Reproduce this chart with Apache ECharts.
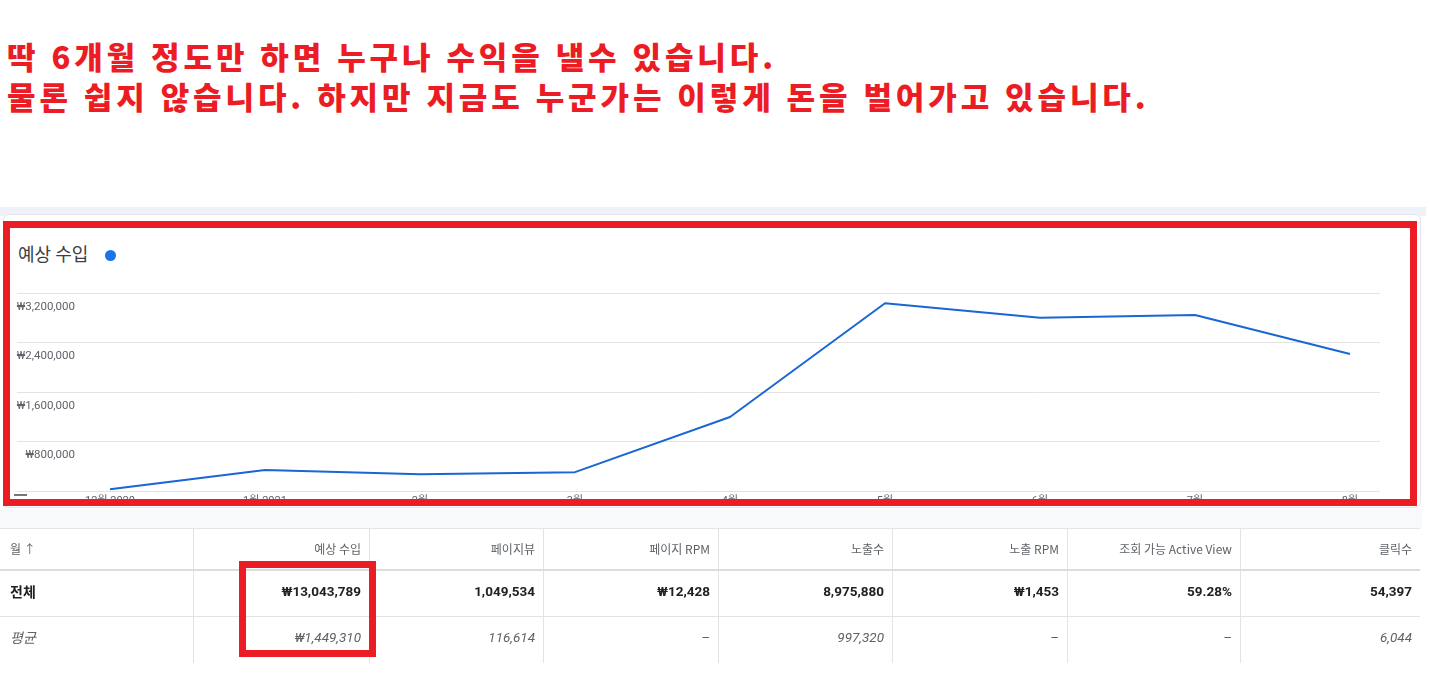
<!DOCTYPE html>
<html><head><meta charset="utf-8">
<script src="https://cdn.jsdelivr.net/npm/echarts@6/dist/echarts.min.js"></script>
<style>
html,body{margin:0;padding:0;background:#fff;width:1430px;height:676px;overflow:hidden;font-family:Roboto,"Noto Sans CJK KR",sans-serif;}
#title{position:absolute;left:7px;top:36px;color:#ec1c24;font-family:"Noto Sans CJK KR";font-weight:900;font-size:31px;line-height:40px;letter-spacing:3.9px;word-spacing:1px;white-space:nowrap;}
#strip{position:absolute;left:0;top:207px;width:1426px;height:9px;background:#eef1f8;}
#card{position:absolute;left:3px;top:214px;width:1418px;height:294px;border:1px solid #e3e5ea;border-radius:6px;background:#fff;box-sizing:border-box;}
#below{position:absolute;left:0;top:509px;width:1422px;height:19px;background:#f8f9fb;}
#chart{position:absolute;left:0;top:0;width:1430px;height:676px;}
#legend{position:absolute;left:18px;top:240px;font-family:"Noto Sans CJK KR";font-size:18px;color:#3c4043;font-weight:400;}
#dot{position:absolute;left:105px;top:250px;width:11px;height:11px;border-radius:50%;background:#1a73e8;}
#table{position:absolute;left:0;top:528px;width:1420px;}
.row{position:absolute;left:0;width:1420px;}
.cell{position:absolute;top:0;height:100%;box-sizing:border-box;border-left:1px solid #e3e3e3;text-align:right;padding-right:8px;white-space:nowrap;}
.cell.first{border-left:none;text-align:left;padding-left:10px;}
.hdr .cell{font-family:"Noto Sans CJK KR";font-size:12px;color:#5f6368;line-height:40px;}
.tot .cell{font-size:13.5px;font-weight:700;color:#202124;line-height:40px;}
.tot .cell.first{font-family:"Noto Sans CJK KR";font-size:14px;}
.avg .cell{font-size:13.5px;font-style:italic;color:#5f6368;line-height:40px;}
.avg .cell.first{font-family:"Noto Sans CJK KR";font-size:14px;}
.redbox{position:absolute;border:7px solid #ec1c24;box-sizing:border-box;}
#menu{position:absolute;left:14px;top:494px;width:13px;height:14px;}
#menu div{height:2px;background:#777;margin-bottom:3px;}
</style></head>
<body>
<div id="title">딱 6개월 정도만 하면 누구나 수익을 낼수 있습니다.<br>물론 쉽지 않습니다. 하지만 지금도 누군가는 이렇게 돈을 벌어가고 있습니다.</div>
<div id="strip"></div>
<div id="card"></div>
<div id="below"></div>
<div id="legend">예상 수입</div>
<div id="dot"></div>
<div id="chart"></div>
<div id="menu"><div></div><div></div><div></div></div>
<div id="table"></div>
<div class="redbox" style="left:3px;top:221px;width:1414px;height:285px;"></div>
<div class="redbox" style="left:239px;top:561px;width:137px;height:96px;"></div>
<script>
// ---- data ----
var months = ['12월 2020', '1월 2021', '2월', '3월', '4월', '5월', '6월', '7월', '8월'];
var revenue = [28000, 340000, 272000, 305000, 1195000, 3035000, 2800000, 2845000, 2215000];
var yTicks = [0, 800000, 1600000, 2400000, 3200000];
var tableHeaders = ['월 ↑', '예상 수입', '페이지뷰', '페이지 RPM', '노출수', '노출 RPM', '조회 가능 Active View', '클릭수'];
var totalRow = ['전체', '₩13,043,789', '1,049,534', '₩12,428', '8,975,880', '₩1,453', '59.28%', '54,397'];
var averageRow = ['평균', '₩1,449,310', '116,614', '–', '997,320', '–', '–', '6,044'];

// ---- table ----
var colEdges = [0, 193, 369, 543, 718, 892, 1067, 1240, 1420];
function buildRow(cls, vals, top, h, borderBottom) {
  var r = document.createElement('div');
  r.className = 'row ' + cls;
  r.style.top = top + 'px';
  r.style.height = h + 'px';
  r.style.borderBottom = borderBottom;
  vals.forEach(function (v, i) {
    var c = document.createElement('div');
    c.className = 'cell' + (i === 0 ? ' first' : '');
    c.style.left = colEdges[i] + 'px';
    c.style.width = (colEdges[i + 1] - colEdges[i]) + 'px';
    c.textContent = v;
    r.appendChild(c);
  });
  document.getElementById('table').appendChild(r);
}
document.getElementById('table').style.borderTop = '1px solid #e6e6e6';
buildRow('hdr', tableHeaders, 0, 40, '2px solid #dcdcdc');
buildRow('tot', totalRow, 42, 45, '1px solid #e3e3e3');
buildRow('avg', averageRow, 88, 46, 'none');

// ---- chart ----
var chart = echarts.init(document.getElementById('chart'), null, {renderer: 'canvas'});
function won(v) { return '₩' + v.toString().replace(/\B(?=(\d{3})+(?!\d))/g, ','); }
chart.setOption({
  animation: false,
  grid: [
    {left: 17, right: 50, top: 293, bottom: 185},
    {left: 110, right: 80, top: 293, bottom: 185}
  ],
  xAxis: [
    {gridIndex: 0, type: 'category', data: months, show: false},
    {gridIndex: 1, type: 'category', data: months, boundaryGap: false,
     axisLine: {show: false}, axisTick: {show: false},
     axisLabel: {color: '#5f6368', fontSize: 11, margin: 5, interval: 0, fontFamily: 'Roboto, "Noto Sans CJK KR"'}}
  ],
  yAxis: [
    {gridIndex: 0, type: 'value', min: yTicks[0], max: yTicks[yTicks.length - 1], interval: 800000,
     axisLine: {show: false}, axisTick: {show: false},
     splitLine: {lineStyle: {color: '#e3e3e3', width: 1}},
     axisLabel: {inside: true, margin: 58, align: 'right', verticalAlign: 'top', padding: [8, 0, 0, 0],
       color: '#5f6368', fontSize: 11.5, fontFamily: 'Roboto',
       formatter: function (v) { return v === 0 ? '' : won(v); }}},
    {gridIndex: 1, type: 'value', min: yTicks[0], max: yTicks[yTicks.length - 1], show: false}
  ],
  series: [{
    type: 'line', xAxisIndex: 1, yAxisIndex: 1, data: revenue,
    showSymbol: false, symbol: 'none',
    lineStyle: {color: '#1967d2', width: 2}
  }]
});
</script>
</body></html>
